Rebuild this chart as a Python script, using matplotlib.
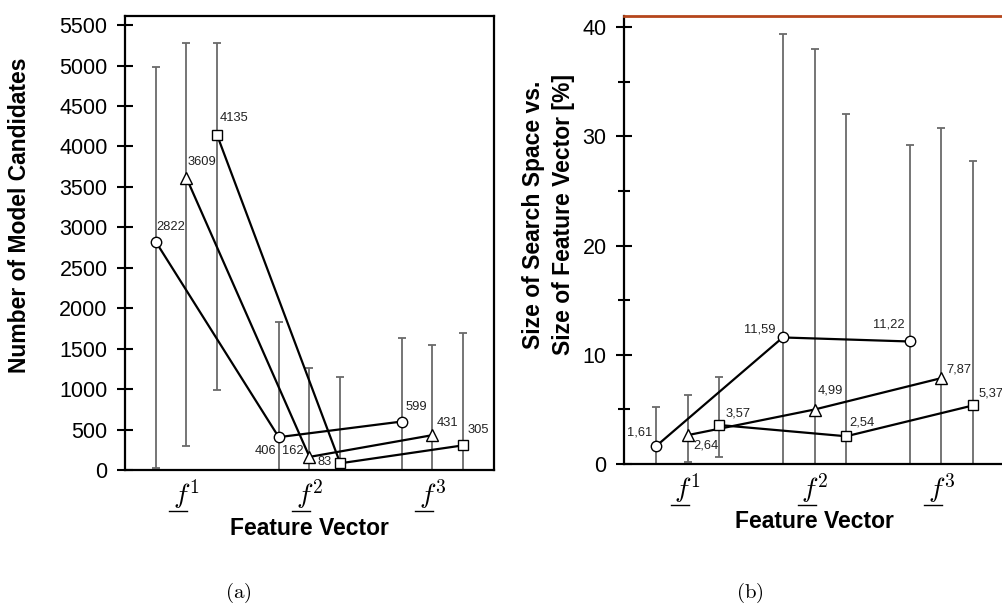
import matplotlib
matplotlib.use("Agg")
import matplotlib.pyplot as plt
from matplotlib.lines import Line2D
import numpy as np

plt.rcParams['font.family'] = ['Liberation Sans', 'DejaVu Sans']
plt.rcParams['mathtext.fontset'] = 'cm'

# ---------------- data ----------------
features = [r'$f^1$', r'$f^2$', r'$f^3$']

# (a) number of model candidates
a_circle = [2822, 406, 599]
a_circle_lo = [20, 0, 0]
a_circle_hi = [4980, 1833, 1635]
a_tri = [3609, 162, 431]
a_tri_lo = [300, 0, 0]
a_tri_hi = [5275, 1265, 1545]
a_sq = [4135, 83, 305]
a_sq_lo = [989, 0, 0]
a_sq_hi = [5275, 1153, 1690]

# (b) size of search space vs size of feature vector [%]
b_circle = [1.61, 11.59, 11.22]
b_circle_lo = [0.0, 0.0, 0.0]
b_circle_hi = [5.19, 39.35, 29.18]
b_tri = [2.64, 4.99, 7.87]
b_tri_lo = [0.21, 0.0, 0.0]
b_tri_hi = [6.29, 38.0, 30.8]
b_sq = [3.57, 2.54, 5.37]
b_sq_lo = [0.64, 0.0, 0.0]
b_sq_hi = [7.94, 32.02, 27.78]

# label offsets (pixels) and alignment
a_off = {
    'o': [((1, 15), 'left'), ((-2, -14), 'right'), ((4, 15), 'left')],
    '^': [((1, 16), 'left'), ((-6, 6), 'right'), ((4, 12), 'left')],
    's': [((2, 17), 'left'), ((-8, 1), 'right'), ((4, 15), 'left')],
}
b_off = {
    'o': [((-3, 14), 'right'), ((-7, 8), 'right'), ((-5, 17), 'right')],
    '^': [((6, -10), 'left'), ((3, 19), 'left'), ((5, 9), 'left')],
    's': [((6, 12), 'left'), ((3, 14), 'left'), ((5, 12), 'left')],
}

fig = plt.figure(figsize=(10.03, 6.05), dpi=100)
axA = fig.add_axes([125/1003, 1-470/605, 369/1003, 454/605])
axB = fig.add_axes([624/1003, 1-464/605, 381/1003, 448/605])

x = np.arange(len(features))
offsets = {'o': -0.25, '^': 0.0, 's': 0.25}
msizes = {'o': 7.5, '^': 8, 's': 7.2}


def draw(ax, series, offs, fmt):
    for mk, vals, lo, hi in series:
        xs = x + offsets[mk]
        vals = np.array(vals, float)
        yerr = np.vstack([vals - np.array(lo, float), np.array(hi, float) - vals])
        eb = ax.errorbar(xs, vals, yerr=yerr, fmt='none', ecolor='#6a6a6a',
                         elinewidth=1.3, capsize=3, capthick=1.3, zorder=2)
        for c in eb[1]:
            c.set_color('#222222')
        ax.plot(xs, vals, color='black', lw=1.6, marker=mk, ms=msizes[mk],
                mfc='white', mec='black', mew=1.0, zorder=3)
        for xi, v, (off, ha) in zip(xs, vals, offs[mk]):
            ax.annotate(fmt(v), (xi, v), xytext=off, textcoords='offset pixels',
                        ha=ha, va='center', fontsize=9.3, color='#222222', zorder=4)


draw(axA, [('o', a_circle, a_circle_lo, a_circle_hi),
           ('^', a_tri, a_tri_lo, a_tri_hi),
           ('s', a_sq, a_sq_lo, a_sq_hi)], a_off, lambda v: f"{int(round(v))}")
draw(axB, [('o', b_circle, b_circle_lo, b_circle_hi),
           ('^', b_tri, b_tri_lo, b_tri_hi),
           ('s', b_sq, b_sq_lo, b_sq_hi)], b_off,
     lambda v: f"{v:.2f}".replace('.', ','))

for ax in (axA, axB):
    ax.set_xlim(-0.5, 2.5)
    ax.set_xticks(x)
    ax.set_xticklabels(features, fontsize=20)
    ax.tick_params(axis='x', length=0, pad=5)
    ax.tick_params(axis='y', direction='inout', length=11, width=1.5,
                   labelsize=15.5, pad=7)
    for s in ax.spines.values():
        s.set_linewidth(1.6)
    ax.text(0.5, -0.128, 'Feature Vector', transform=ax.transAxes, ha='center',
            va='center', fontsize=16.5, fontweight='bold')

fig.canvas.draw()
# underline under the f of each tick label (pixel offsets from the tick)
for ax in (axA, axB):
    y0 = ax.transAxes.transform((0, 0))[1] - 41
    for xi in x:
        px = ax.transData.transform((xi, 0))[0]
        fig.add_artist(Line2D([px - 17, px + 1], [y0, y0], transform=None,
                              color='black', lw=1.0, clip_on=False))

axA.set_ylim(0, 5612)
axA.set_yticks(np.arange(0, 5501, 500))
axA.text(-0.2846, 0.5617, 'Number of Model Candidates', transform=axA.transAxes,
         rotation=90, ha='center', va='center', fontsize=16.5, fontweight='bold')

axB.set_ylim(0, 41.03)
axB.set_yticks(np.arange(0, 41, 10))
axB.set_yticks(np.arange(5, 40, 10), minor=True)
axB.tick_params(axis='y', which='minor', direction='inout', length=9, width=1.5)
axB.spines['top'].set_color('#b5461c')
axB.spines['top'].set_linewidth(2)
axB.spines['right'].set_visible(False)
axB.text(-0.198, 0.556, 'Size of Search Space vs.\nSize of Feature Vector [%]',
         transform=axB.transAxes, rotation=90, ha='center', va='center',
         fontsize=16.5, fontweight='bold', linespacing=1.35, multialignment='center')

fig.text(238/1003, 1-593/605, r'$\mathrm{(a)}$', ha='center', va='center', fontsize=15)
fig.text(750/1003, 1-593/605, r'$\mathrm{(b)}$', ha='center', va='center', fontsize=15)

fig.savefig('out.png', dpi=100)
